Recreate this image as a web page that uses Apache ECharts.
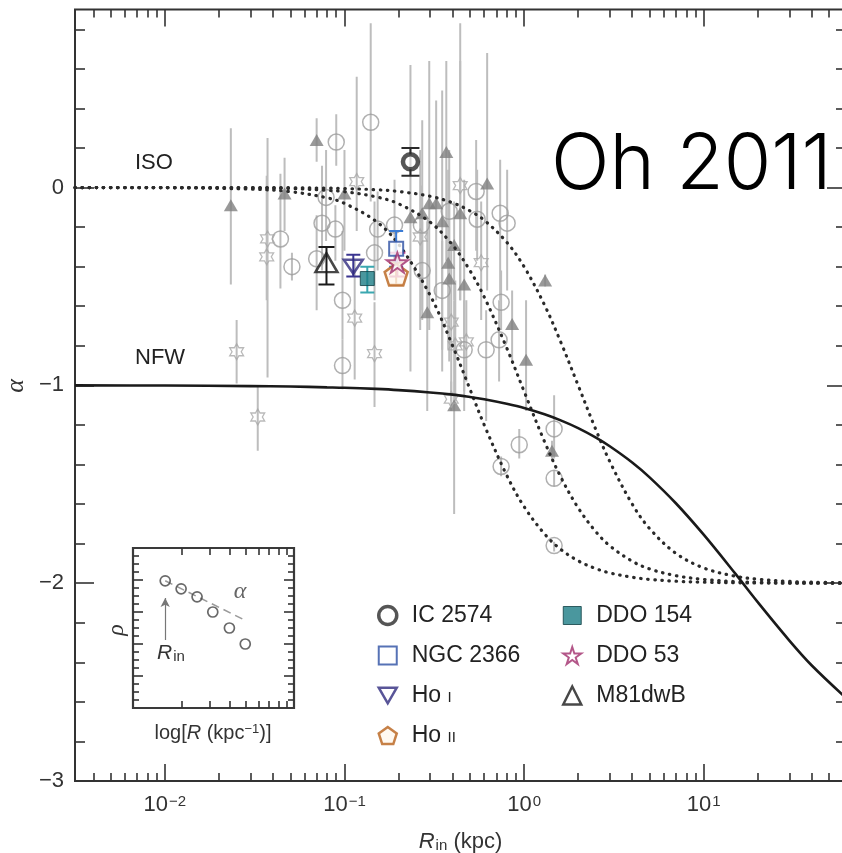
<!DOCTYPE html>
<html><head><meta charset="utf-8">
<script src="https://cdn.jsdelivr.net/npm/echarts@6/dist/echarts.min.js"></script>
<style>html,body{margin:0;padding:0;background:#fff}#c{width:842px;height:853px}</style>
</head><body><div id="c"></div>
<script>
// ---------- data ----------
// gray literature points: [R_in (kpc), alpha, alpha_low, alpha_high]
const circlePts = [
  [0.044,-0.26,-0.51,0.07],[0.051,-0.40,-0.47,-0.33],[0.070,-0.36,-0.62,-0.14],[0.075,-0.18,-0.42,0.11],
  [0.089,-0.21,-0.37,-0.09],[0.090,0.23,0.11,0.37],[0.079,-0.05,-0.27,0.19],[0.140,0.33,-0.07,0.83],
  [0.0975,-0.57,-0.77,-0.22],[0.0975,-0.90,-1.02,-0.77],[0.147,-0.33,-0.57,-0.07],[0.153,-0.21,-0.42,-0.02],
  [0.190,-0.19,-0.37,0.04],[0.271,-0.42,-0.62,-0.17],[0.268,-0.19,-0.39,0.01],[0.350,-0.52,-0.93,-0.27],
  [0.383,-0.12,-0.37,0.19],[0.541,-0.02,-0.32,0.24],[0.548,-0.16,-0.37,0.09],[0.736,-0.13,-0.57,0.14],
  [0.805,-0.18,-0.52,0.09],[0.745,-0.58,-0.72,-0.42],[0.726,-0.77,-0.98,-0.57],[0.615,-0.82,-1.18,-0.62],
  [0.464,-0.82,-1.13,-0.57],[0.94,-1.30,-1.37,-1.22],[1.47,-1.22,-1.37,-1.05],[0.745,-1.41,-1.46,-1.36],
  [1.47,-1.47,-1.51,-1.43],[1.47,-1.81,-1.84,-1.79]
];
const trianglePts = [
  [0.0233,-0.09,-0.49,0.30],[0.0464,-0.03,-0.22,0.15],[0.070,0.24,0.13,0.35],[0.100,-0.03,-0.32,0.19],
  [0.2965,-0.08,-0.72,0.64],[0.324,-0.08,-0.57,0.44],[0.233,-0.15,-0.93,0.62],[0.271,-0.13,-0.67,0.34],
  [0.350,-0.17,-0.82,0.49],[0.441,-0.13,-0.57,0.64],[0.369,0.18,-0.37,0.64],[0.623,0.02,-0.52,0.68],
  [0.378,-0.38,-0.82,0.09],[0.383,-0.46,-0.88,-0.07],[0.464,-0.49,-1.03,0.04],[0.289,-0.63,-1.13,-0.17],
  [0.858,-0.69,-0.88,-0.52],[1.026,-0.87,-1.13,-0.57],[0.408,-1.10,-1.65,-0.57],[1.31,-0.47,-0.50,-0.44],
  [1.43,-1.33,-1.38,-1.28],[0.408,-0.29,-0.57,-0.07]
];
const starPts = [
  [0.0373,-0.26,-0.96,0.25],[0.0369,-0.35,-0.57,0.06],[0.117,0.03,-0.22,0.56],[0.0251,-0.83,-0.99,-0.67],
  [0.0329,-1.16,-1.33,-1.00],[0.114,-0.66,-0.97,-0.37],[0.147,-0.84,-1.11,-0.58],[0.264,-0.25,-0.72,0.19],
  [0.441,0.01,-0.57,0.83],[0.577,-0.38,-0.67,-0.07],[0.393,-0.68,-1.08,-0.32],[0.477,-0.78,-0.98,-0.57],
  [0.414,-0.80,-1.08,-0.47],[0.393,-1.07,-1.13,-0.98]
];
// THINGS dwarf galaxies
const galaxyNames = ['Ho II','NGC 2366','DDO 53','IC 2574','Ho I','DDO 154','M81dwB'];
const galaxyR     = [0.194, 0.194, 0.197, 0.233, 0.112, 0.134, 0.0794];
const galaxyAlpha = [-0.44, -0.31, -0.38, 0.13, -0.40, -0.46, -0.38];
const galaxyLow   = [-0.49, -0.40, -0.45, 0.06, -0.45, -0.53, -0.49];
const galaxyHigh  = [-0.38, -0.22, -0.33, 0.20, -0.34, -0.40, -0.30];
// model curves
const curveR    = [0.00316,0.01,0.03,0.05,0.08,0.1,0.15,0.2,0.3,0.4,0.5,0.6,0.8,1,1.3,1.6,2,2.5,3,4,5,7,10,15,20,30,40,62];
const nfwAlpha  = [-1.000,-1.001,-1.004,-1.006,-1.010,-1.012,-1.018,-1.024,-1.036,-1.047,-1.059,-1.070,-1.093,-1.114,-1.146,-1.177,-1.216,-1.263,-1.308,-1.390,-1.465,-1.596,-1.755,-1.952,-2.096,-2.290,-2.416,-2.580];
const isoAlphaA = [0.000,-0.001,-0.008,-0.021,-0.052,-0.080,-0.171,-0.286,-0.545,-0.800,-1.020,-1.200,-1.454,-1.613,-1.751,-1.829,-1.887,-1.926,-1.948,-1.970,-1.981,-1.990,-1.995,-1.998,-1.999,-2.000,-2.000,-2.000];
const isoAlphaB = [0.000,0.000,-0.002,-0.005,-0.014,-0.021,-0.047,-0.082,-0.175,-0.291,-0.420,-0.553,-0.810,-1.030,-1.285,-1.463,-1.619,-1.738,-1.811,-1.889,-1.928,-1.962,-1.981,-1.992,-1.995,-1.998,-1.999,-2.000];
const isoAlphaC = [0.000,0.000,0.000,-0.001,-0.003,-0.005,-0.011,-0.020,-0.044,-0.077,-0.118,-0.165,-0.276,-0.400,-0.594,-0.781,-1.000,-1.220,-1.385,-1.600,-1.724,-1.849,-1.923,-1.965,-1.980,-1.991,-1.995,-1.998];
// ticks
const xMajorTicks = [0.01, 0.1, 1, 10];
const xMinorTicks = [0.004,0.005,0.006,0.007,0.008,0.009,0.02,0.03,0.04,0.05,0.06,0.07,0.08,0.09,
  0.2,0.3,0.4,0.5,0.6,0.7,0.8,0.9,2,3,4,5,6,7,8,9,20,30,40,50];
const yMajorTicks = [-3, -2, -1, 0];
const yMinorTicks = [-2.8,-2.6,-2.4,-2.2,-1.8,-1.6,-1.4,-1.2,-0.8,-0.6,-0.4,-0.2,0.2,0.4,0.6,0.8];
// inset
const insetR    = [1.585, 1.99, 2.50, 3.13, 3.97, 4.98];
const insetRho  = [15.9, 14.9, 13.9, 12.0, 10.0, 8.0];
const insetFitR = [1.585, 4.93];
const insetFitRho = [15.9, 11.0];
const insetArrowR = 1.585, insetArrowFrom = 8.5, insetArrowTo = 13.75;
const insetXTicks = [2,3,4,5,6,7,8,9];
const insetYMinor = [1,2,3,5,6,7,9,10,11,13,14,15,17,18,19];
const insetYMajor = [4,8,12,16];

// ---------- styles ----------
const SANS = "'Liberation Sans', Arial, Helvetica, sans-serif";
const SERIF = "'Liberation Serif', 'DejaVu Serif', serif";
const AX = '#333';
const HEXAGRAM = 'path://M0,-10 L2.89,-5 L8.66,-5 L5.77,0 L8.66,5 L2.89,5 L0,10 L-2.89,5 L-8.66,5 L-5.77,0 L-8.66,-5 L-2.89,-5 Z';
const STAR5 = 'path://M0,-10 L2.245,-3.09 L9.51,-3.09 L3.633,1.18 L5.878,8.09 L0,3.82 L-5.878,8.09 L-3.633,1.18 L-9.51,-3.09 L-2.245,-3.09 Z';
const PENTA = 'path://M0,-10 L9.51,-3.09 L5.878,8.09 L-5.878,8.09 L-9.51,-3.09 Z';
const DTRI = 'path://M-10,-8.66 L10,-8.66 L0,8.66 Z';

const galaxyStyle = {
  'IC 2574':  {symbol:'circle', size:15, item:{color:'#fff', borderColor:'#2a2a2a', borderWidth:4.5}, bar:'#2a2a2a', cap:9},
  'NGC 2366': {symbol:'rect', size:14, item:{color:'#fff', borderColor:'#2c4fa3', borderWidth:2}, bar:'#3b7bd4', cap:7},
  'Ho I':     {symbol:DTRI, size:[19,16], item:{color:'rgba(255,255,255,0)', borderColor:'#2f2a7e', borderWidth:2.5}, bar:'#3a3490', cap:7},
  'Ho II':    {symbol:PENTA, size:23, item:{color:'#fff8ee', borderColor:'#b8611a', borderWidth:2.5}, bar:'#c06a20', cap:7},
  'DDO 154':  {symbol:'rect', size:14, item:{color:'#1d7d86', borderColor:'#0f3f44', borderWidth:1}, bar:'#3aa7b0', cap:7},
  'DDO 53':   {symbol:STAR5, size:21, item:{color:'#fff', borderColor:'#a02d6b', borderWidth:2}, bar:'#c04088', cap:8},
  'M81dwB':   {symbol:'triangle', size:[22,19], item:{color:'rgba(255,255,255,0)', borderColor:'#1a1a1a', borderWidth:2.5}, bar:'#1a1a1a', cap:8}
};

function errorBars(rows, color, width, capHalf, z) {
  return {
    type:'custom', xAxisIndex:0, yAxisIndex:0, z:z, silent:true, clip:true,
    data: rows.map(d => [d[0], d[2], d[3]]),
    encode:{x:0, y:[1,2]},
    renderItem: function (params, api) {
      const p1 = api.coord([api.value(0), api.value(1)]);
      const p2 = api.coord([api.value(0), api.value(2)]);
      const st = {stroke:color, lineWidth:width};
      const ch = [{type:'line', shape:{x1:p1[0], y1:p1[1], x2:p2[0], y2:p2[1]}, style:st}];
      if (capHalf) {
        ch.push({type:'line', shape:{x1:p1[0]-capHalf, y1:p1[1], x2:p1[0]+capHalf, y2:p1[1]}, style:st});
        ch.push({type:'line', shape:{x1:p2[0]-capHalf, y1:p2[1], x2:p2[0]+capHalf, y2:p2[1]}, style:st});
      }
      return {type:'group', children:ch};
    }
  };
}

const series = [];
// gray error bars
series.push(errorBars(circlePts.concat(trianglePts, starPts), '#bdbdbd', 2, 0, 1));
series.push({type:'scatter', xAxisIndex:0, yAxisIndex:0, z:2, silent:true, data:circlePts.map(d=>[d[0],d[1]]),
  symbol:'circle', symbolSize:16, itemStyle:{color:'rgba(255,255,255,0)', borderColor:'#9c9c9c', borderWidth:1.5}});
series.push({type:'scatter', xAxisIndex:0, yAxisIndex:0, z:2, silent:true, data:trianglePts.map(d=>[d[0],d[1]]),
  symbol:'triangle', symbolSize:[14,12], itemStyle:{color:'#808080'}});
series.push({type:'scatter', xAxisIndex:0, yAxisIndex:0, z:2, silent:true, data:starPts.map(d=>[d[0],d[1]]),
  symbol:HEXAGRAM, symbolKeepAspect:true, symbolSize:16, itemStyle:{color:'rgba(255,255,255,0)', borderColor:'#a8a8a8', borderWidth:1.3}});
// model curves
const dotted = {color:'#2a2a2a', width:3.2, type:[0.5,6.6], cap:'round'};
[isoAlphaA, isoAlphaB, isoAlphaC].forEach(a => {
  series.push({type:'line', xAxisIndex:0, yAxisIndex:0, z:3, silent:true, showSymbol:false, smooth:0.35,
    data: curveR.map((r,i)=>[r,a[i]]), lineStyle:dotted});
});
series.push({type:'line', xAxisIndex:0, yAxisIndex:0, z:3, silent:true, showSymbol:false, smooth:0.35,
  data: curveR.map((r,i)=>[r,nfwAlpha[i]]), lineStyle:{color:'#1a1a1a', width:2.6}});
// galaxies
galaxyNames.forEach((n,i) => {
  const s = galaxyStyle[n];
  series.push(errorBars([[galaxyR[i], galaxyAlpha[i], galaxyLow[i], galaxyHigh[i]]], s.bar, 2, s.cap, 4+i*0.01));
  series.push({type:'scatter', name:n, xAxisIndex:0, yAxisIndex:0, z:5+i*0.01, silent:true,
    data:[[galaxyR[i], galaxyAlpha[i]]], symbol:s.symbol, symbolKeepAspect:true, symbolSize:s.size, itemStyle:s.item});
});
// inset
series.push({type:'line', xAxisIndex:4, yAxisIndex:4, z:4, silent:true, showSymbol:false,
  data: insetFitR.map((r,i)=>[r, insetFitRho[i]]), lineStyle:{color:'#9a9a9a', width:1.6, type:[8,5]},
  markLine:{silent:true, symbol:['none','arrow'], symbolSize:[7,9], label:{show:false},
    lineStyle:{color:'#777', width:1.2, type:'solid'},
    data:[[{coord:[insetArrowR, insetArrowFrom]}, {coord:[insetArrowR, insetArrowTo]}]]}});
series.push({type:'scatter', xAxisIndex:4, yAxisIndex:4, z:5, silent:true,
  data: insetR.map((r,i)=>[r, insetRho[i]]), symbol:'circle', symbolSize:10,
  itemStyle:{color:'rgba(255,255,255,0)', borderColor:'#444', borderWidth:1.7}});

function xAx(grid, pos, ticks, len, labels, extra) {
  return Object.assign({
    type:'log', gridIndex:grid, position:pos, axisLine:{show:false, onZero:false}, splitLine:{show:false},
    axisTick:{show:true, inside:true, length:len, customValues:ticks, lineStyle:{color:AX, width:1.6}},
    axisLabel: labels ? labels : {show:false}
  }, extra);
}
function yAx(grid, pos, ticks, len, labels, extra) {
  return Object.assign({
    type:'value', gridIndex:grid, position:pos, axisLine:{show:false, onZero:false}, splitLine:{show:false},
    axisTick:{show:true, inside:true, length:len, customValues:ticks, lineStyle:{color:AX, width:1.6}},
    axisLabel: labels ? labels : {show:false}
  }, extra);
}
const mainX = {min:0.00316, max:62};
const mainY = {min:-3, max:0.9};
const insX = {min:1, max:10};
const insY = {min:0, max:20};

const xLabel = {
  customValues:xMajorTicks, margin:13, color:'#333',
  formatter: v => { const e = Math.round(Math.log10(v)); return '{b|10}{s|' + (e < 0 ? '\u2212' : '') + Math.abs(e) + '}'; },
  rich:{ b:{fontSize:22, lineHeight:22, verticalAlign:'bottom', fontFamily:SANS, color:'#333'},
         s:{fontSize:15, lineHeight:15, verticalAlign:'top', padding:[0,0,10,1], fontFamily:SANS, color:'#333'} }
};
const yLabel = {
  customValues:yMajorTicks, margin:11, fontSize:22, color:'#333', fontFamily:SANS,
  formatter: v => v === 0 ? '0' : '\u2212' + Math.abs(v)
};

const option = {
  animation:false,
  textStyle:{fontFamily:SANS},
  grid:[
    {left:75, top:9.5, right:-4, bottom:72, show:true, borderColor:'#333', borderWidth:2, backgroundColor:'rgba(0,0,0,0)', containLabel:false, outerBoundsMode:'none'},
    {left:133, top:548, width:161, height:160, show:true, borderColor:'#3a3a3a', borderWidth:2.2, backgroundColor:'#fff', containLabel:false, outerBoundsMode:'none'}
  ],
  xAxis:[
    xAx(0,'bottom',xMajorTicks,17,xLabel,Object.assign({
      name:'{i|R}{sub|in}{n| (kpc)}', nameLocation:'middle', nameGap:44,
      nameTextStyle:{rich:{
        i:{fontSize:22, lineHeight:22, verticalAlign:'top', fontStyle:'italic', fontFamily:SANS, color:'#333'},
        sub:{fontSize:15, lineHeight:15, verticalAlign:'bottom', padding:[14,0,0,1], fontFamily:SANS, color:'#333'},
        n:{fontSize:22, lineHeight:22, verticalAlign:'top', fontFamily:SANS, color:'#333'}}}
    }, mainX)),
    xAx(0,'bottom',xMinorTicks,8,null,mainX),
    xAx(0,'top',xMajorTicks,17,null,mainX),
    xAx(0,'top',xMinorTicks,8,null,mainX),
    xAx(1,'bottom',insetXTicks,7,null,insX),
    xAx(1,'top',insetXTicks,7,null,insX)
  ],
  yAxis:[
    yAx(0,'left',yMajorTicks,19,yLabel,mainY),
    yAx(0,'left',yMinorTicks,10,null,mainY),
    yAx(0,'right',yMajorTicks,19,null,mainY),
    yAx(0,'right',yMinorTicks,10,null,mainY),
    yAx(1,'left',insetYMinor,6,null,insY),
    yAx(1,'left',insetYMajor,10,null,insY),
    yAx(1,'right',insetYMinor,6,null,insY),
    yAx(1,'right',insetYMajor,10,null,insY)
  ],
  legend:[0,1].map(col => ({
    orient:'vertical', left: col === 0 ? 372 : 557, top:599, itemWidth:18, itemHeight:18, itemGap:17,
    selectedMode:false,
    data:(col === 0 ? ['IC 2574','NGC 2366','Ho I','Ho II'] : ['DDO 154','DDO 53','M81dwB']).map(n => {
      const s = galaxyStyle[n];
      return {name:n, icon: s.symbol, itemStyle:Object.assign({}, s.item, {borderWidth: Math.min(s.item.borderWidth, 3.5)})};
    }),
    formatter: n => n === 'Ho I' ? '{n|Ho }{s|I}' : (n === 'Ho II' ? '{n|Ho }{s|II}' : n),
    textStyle:{fontSize:23, lineHeight:23, color:'#222', fontFamily:SANS, padding:[0,0,0,10],
      rich:{ n:{fontSize:23, lineHeight:23, verticalAlign:'bottom', fontFamily:SANS, color:'#222'},
             s:{fontSize:15, lineHeight:15, verticalAlign:'bottom', padding:[0,0,2,0], fontFamily:SANS, color:'#222'} }}
  })),
  graphic:[
    {type:'text', x:135, y:163, z:20, silent:true, style:{text:'ISO', fontSize:22, fontFamily:SANS, fill:'#222', verticalAlign:'middle'}},
    {type:'text', x:135, y:358, z:20, silent:true, style:{text:'NFW', fontSize:22, fontFamily:SANS, fill:'#222', verticalAlign:'middle'}},
    {type:'text', x:551, y:166, z:20, silent:true, style:{text:'Oh 2011', fontSize:77, fontWeight:300, fontFamily:"Inter, 'Helvetica Neue', sans-serif", fill:'#000', verticalAlign:'middle'}},
    {type:'text', x:16, y:386, rotation:Math.PI/2, z:20, silent:true, style:{text:'\u03b1', fontSize:26, fontStyle:'italic', fontFamily:SERIF, fill:'#333', align:'center', verticalAlign:'middle'}},
    {type:'text', x:117, y:630, rotation:Math.PI/2, z:20, silent:true, style:{text:'\u03c1', fontSize:24, fontStyle:'italic', fontFamily:SERIF, fill:'#333', align:'center', verticalAlign:'middle'}},
    {type:'text', x:240, y:592, z:20, silent:true, style:{text:'\u03b1', fontSize:24, fontStyle:'italic', fontFamily:SERIF, fill:'#666', align:'center', verticalAlign:'middle'}},
    {type:'text', x:157, y:643, z:20, silent:true, style:{text:'{i|R}{sub|in}', verticalAlign:'top',
      rich:{ i:{fontSize:21, lineHeight:21, verticalAlign:'top', fontStyle:'italic', fontFamily:SANS, fill:'#333'},
             sub:{fontSize:15, lineHeight:15, verticalAlign:'bottom', padding:[12,0,0,1], fontFamily:SANS, fill:'#333'} }}},
    {type:'text', x:213, y:733, z:20, silent:true, style:{text:'log[{i|R} (kpc{s|\u22121})]', align:'center', verticalAlign:'middle',
      fontSize:20, fontFamily:SANS, fill:'#333',
      rich:{ i:{fontSize:20, fontStyle:'italic', fontFamily:SANS, fill:'#333'},
             s:{fontSize:13, verticalAlign:'top', padding:[0,0,8,0], fontFamily:SANS, fill:'#333'} }}}
  ],
  series:series
};
const chart = echarts.init(document.getElementById('c'), null, {renderer:'canvas'});
chart.setOption(option);
</script></body></html>
